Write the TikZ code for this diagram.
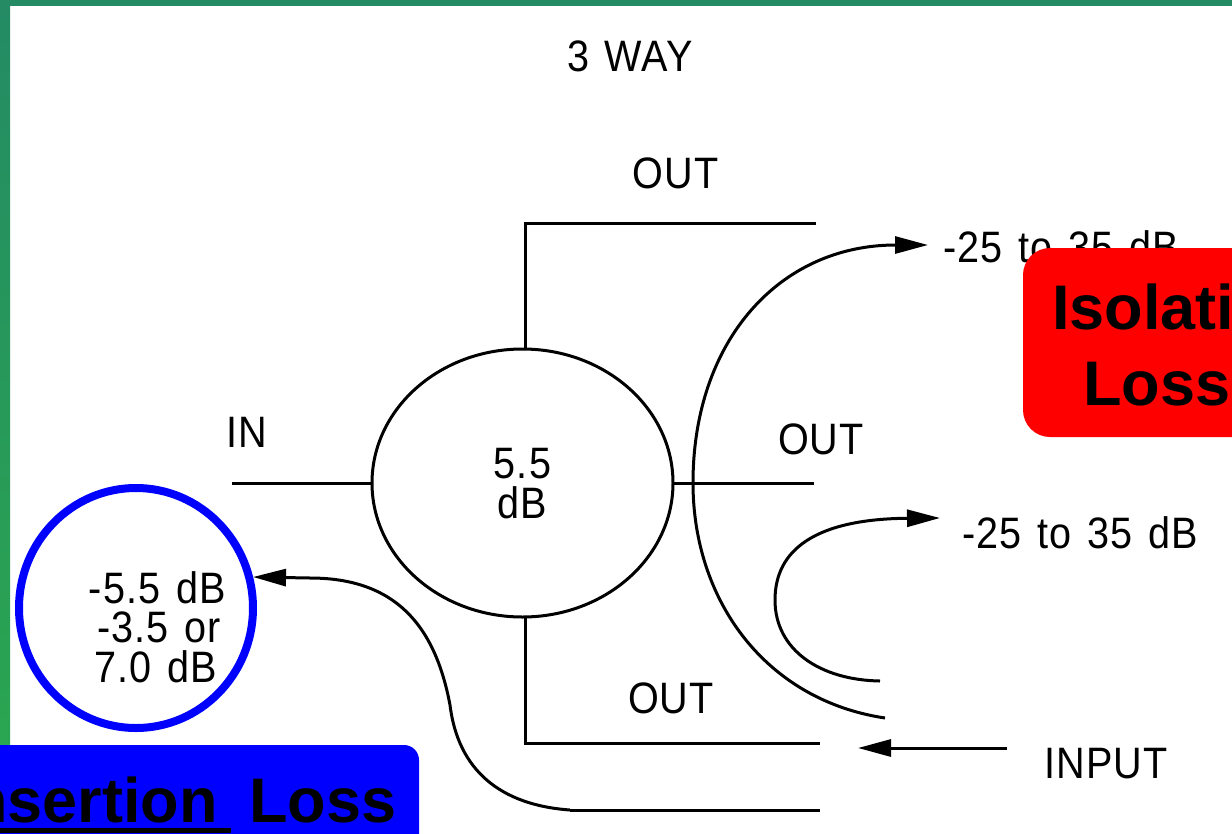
\documentclass[tikz,border=0pt]{standalone}
\usepackage{fontspec}
\setmainfont{Liberation Sans}
\newfontfamily\lab[FakeStretch=0.9,LetterSpace=2.5,WordSpace=1.3]{Liberation Sans}
\newfontfamily\ban[FakeStretch=1.0]{Liberation Sans Bold}
\usetikzlibrary{arrows.meta,shapes.geometric}
\definecolor{bandtop}{RGB}{36,139,100}
\definecolor{bandbot}{RGB}{42,166,80}
\definecolor{pureblue}{RGB}{0,0,255}
\definecolor{purered}{RGB}{255,0,0}
\tikzset{
  wire/.style={draw=black,line width=3pt},
  arrowwire/.style={wire,-{Triangle[length=33pt,width=17pt]}},
  lbl/.style={inner sep=0pt,font=\fontsize{44}{44}\selectfont\lab,text=black},
  bantxt/.style={inner sep=0pt,font=\fontsize{63}{63}\selectfont\ban,text=black},
}
\begin{document}
\begin{tikzpicture}[x=1pt,y=-1pt]
\useasboundingbox (0,0) rectangle (1232,833);
\begin{scope}
\clip (0,0) rectangle (1232,833);
\fill[white] (0,0) rectangle (1232,833);
\shade[top color=bandtop,bottom color=bandbot,draw=none] (0,0) rectangle (10,760);
\fill[bandtop] (0,0) rectangle (1232,6);

% main splitter
\node[wire,ellipse,minimum width=301pt,minimum height=268pt,inner sep=0pt,outer sep=0pt] (split) at (522.5,483) {};
\coordinate (inL) at (232,483);
\coordinate (outE) at (814,483);
\coordinate (topC) at (525,223);
\coordinate (topE) at (816,223);
\coordinate (botC) at (525,743);
\coordinate (botE) at (820,743);
\draw[wire] (inL) -- (split.west);
\draw[wire] (split.east) -- (outE);
\draw[wire] (topC |- split.north) -- (topC) -- (topE);
\draw[wire] (botC |- split.south) -- (botC) -- (botE);

% isolation arcs
\coordinate (a1s) at (885,718);
\coordinate (a1m) at (693,483);
\coordinate (a1e) at (928,245);
\draw[arrowwire] (a1s) .. controls (765,700) and (693,600) .. (a1m)
   .. controls (693,340) and (780,245) .. (a1e);
\coordinate (a2s) at (880,681);
\coordinate (a2m) at (775,600);
\coordinate (a2e) at (940,518);
\draw[arrowwire] (a2s) .. controls (820,680) and (775,650) .. (a2m)
   .. controls (775,550) and (815,519) .. (a2e);
% input arrow
\coordinate (ins) at (1007,748);
\coordinate (ine) at (858,748);
\draw[arrowwire] (ins) -- (ine);
% insertion path
\coordinate (b1) at (820,810);
\coordinate (b2) at (570,810);
\coordinate (b3) at (450,705);
\coordinate (b4) at (253,577);
\draw[wire] (b1) -- (b2);
\draw[arrowwire] (b2) .. controls (500,805) and (458,770) .. (b3)
   .. controls (435,625) and (395,578) .. (310,578) -- (b4);

% labels
\node[lbl,anchor=base] (way) at (630,71) {3 WAY};
\node[lbl,anchor=base] (o1) at (675.5,188) {OUT};
\node[lbl,anchor=base] (o2) at (821,454) {OUT};
\node[lbl,anchor=base] (o3) at (671,713) {OUT};
\node[lbl,anchor=base] (inl) at (247,447) {IN};
\node[lbl,anchor=base] (v1) at (522.5,478) {5.5};
\node[lbl,anchor=base] (v2) at (522.5,518) {dB};
\node[lbl,anchor=base west] (iso1) at (943,262) {-25 to 35 dB};
\node[lbl,anchor=base west] (iso2) at (962,548) {-25 to 35 dB};
\node[lbl,anchor=base] (inp) at (1106,778) {INPUT};

% blue circle
\node[draw=pureblue,line width=8pt,ellipse,minimum width=234pt,minimum height=240pt,inner sep=0pt,outer sep=0pt] (ring) at (136,608) {};
\node[lbl,anchor=base east] (c1) at (226,603) {-5.5 dB};
\node[lbl,anchor=base east] (c2) at (221,642) {-3.5 or};
\node[lbl,anchor=base east] (c3) at (217,682) {7.0 dB};

% banners
\fill[rounded corners=27pt,fill=purered] (1023,248) rectangle (1300,437);
\node[bantxt,anchor=base west] (t1) at (1052,329) {Isolation};
\node[bantxt,anchor=base west] (t2) at (1083,405) {Loss};
\fill[rounded corners=15pt,fill=pureblue] (-40,745) rectangle (419,900);
\node[bantxt,anchor=base east] (t3) at (218,822) {Insertion};
\node[bantxt,anchor=base west] (t4) at (249,822) {Loss};
\fill[black] (-10,828) rectangle (231,833);
\end{scope}
\end{tikzpicture}
\end{document}
